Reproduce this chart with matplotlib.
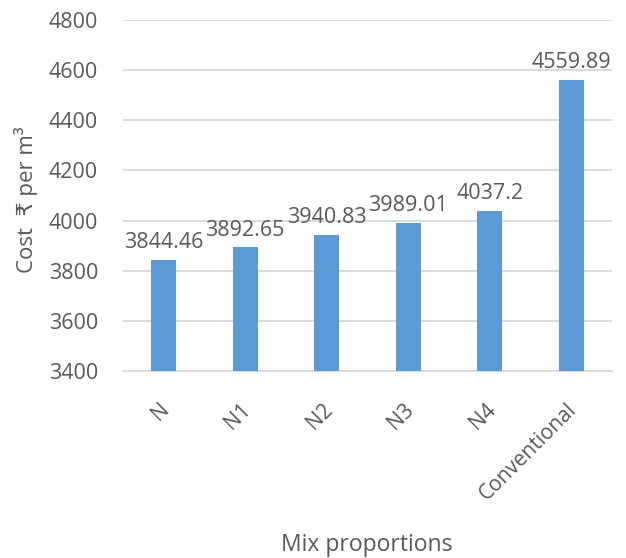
import matplotlib
matplotlib.use("Agg")
import matplotlib.pyplot as plt
from matplotlib.transforms import ScaledTranslation

plt.rcParams['font.family'] = ['Open Sans', 'DejaVu Sans']

mixes = ['N', 'N1', 'N2', 'N3', 'N4', 'Conventional']
costs = [3844.46, 3892.65, 3940.83, 3989.01, 4037.2, 4559.89]
cost_labels = ['3844.46', '3892.65', '3940.83', '3989.01', '4037.2', '4559.89']

grey = '#595959'

fig = plt.figure(figsize=(6.26, 5.58), dpi=100)
ax = fig.add_axes([123 / 626, 1 - 371 / 558, 489 / 626, 351 / 558])

x = range(len(mixes))
ax.bar(x, costs, width=0.31, color='#5B9BD5', zorder=3)
for i, v in enumerate(costs):
    ax.annotate(cost_labels[i], (i, v), xytext=(0, 5), textcoords='offset points',
                ha='center', va='bottom', fontsize=15.5, color=grey, zorder=4)

ax.set_ylim(3400, 4800)
ax.set_xlim(-0.5, len(mixes) - 0.5)
ax.set_yticks(range(3400, 4801, 200))
ax.yaxis.grid(True, color='#d9d9d9', linewidth=1.3, zorder=0)
ax.tick_params(axis='both', length=0, labelsize=15.5, colors=grey)
ax.tick_params(axis='y', pad=18)
ax.set_xticks(list(x))
ax.set_xticklabels(mixes, rotation=45, ha='right', va='top',
                   rotation_mode='anchor', fontsize=15)
ax.tick_params(axis='x', pad=20)
# nudge the slanted category labels a little to the left
shift = ScaledTranslation(-5 / 100, 0, fig.dpi_scale_trans)
for lbl in ax.get_xticklabels():
    lbl.set_transform(lbl.get_transform() + shift)
for s in ['top', 'right', 'left']:
    ax.spines[s].set_visible(False)
ax.spines['bottom'].set_color('#d9d9d9')
ax.spines['bottom'].set_linewidth(1.3)

ax.set_ylabel('Cost  ₹ per m³', fontsize=16, color=grey)
ax.yaxis.set_label_coords(-0.174, 0.487)
fig.text(367 / 626, 1 - 545 / 558, 'Mix proportions', ha='center',
         va='center', fontsize=16.5, color=grey)

fig.savefig('out.png', dpi=100)
